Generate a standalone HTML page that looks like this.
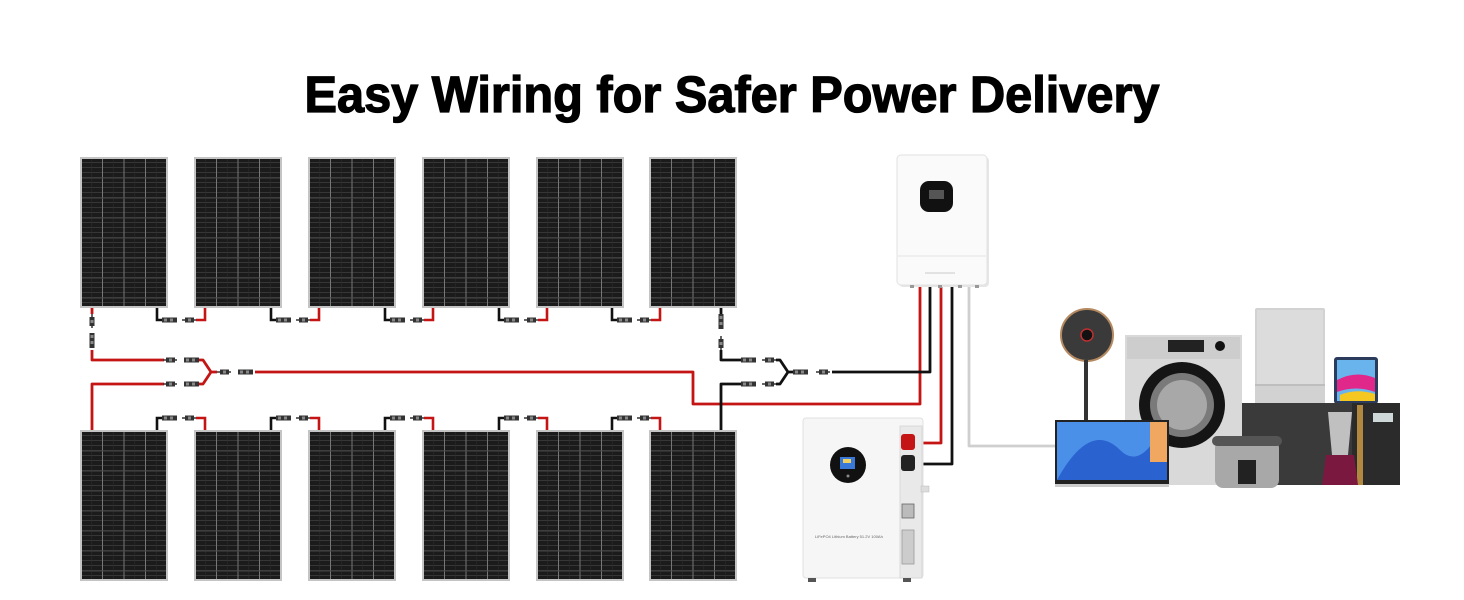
<!DOCTYPE html>
<html><head><meta charset="utf-8"><style>
html,body{margin:0;padding:0;background:#fff;width:1464px;height:600px;overflow:hidden}
svg{display:block}
</style></head><body>
<svg width="1464" height="600" viewBox="0 0 1464 600" xmlns="http://www.w3.org/2000/svg">
<defs>
<pattern id="cells" x="0" y="0" width="21.5" height="5" patternUnits="userSpaceOnUse">
<rect width="21.5" height="5" fill="#1b1b1b"/>
<line x1="0" y1="4.5" x2="21.5" y2="4.5" stroke="#363636" stroke-width="1"/>
<line x1="10.75" y1="0" x2="10.75" y2="5" stroke="#2a2a2a" stroke-width="0.6"/>
</pattern>
<g id="panel">
<rect x="0" y="0" width="86" height="149" fill="url(#cells)" stroke="#c4c4c4" stroke-width="2"/>
<g stroke="#777" stroke-width="1">
<line x1="21.5" y1="1" x2="21.5" y2="148"/><line x1="43" y1="1" x2="43" y2="148"/><line x1="64.5" y1="1" x2="64.5" y2="148"/>
<g stroke="#454545"><line x1="1" y1="20" x2="85" y2="20"/><line x1="1" y1="40" x2="85" y2="40"/><line x1="1" y1="60" x2="85" y2="60"/><line x1="1" y1="80" x2="85" y2="80"/><line x1="1" y1="100" x2="85" y2="100"/><line x1="1" y1="120" x2="85" y2="120"/><line x1="1" y1="140" x2="85" y2="140"/></g>
</g>
</g>
<g id="fem"><rect x="0" y="-2.5" width="15" height="5" fill="#333"/><rect x="2" y="-1.5" width="3" height="3" fill="#888"/><rect x="8" y="-1.5" width="3" height="3" fill="#888"/></g>
<g id="male"><rect x="3" y="-2.5" width="9" height="5" fill="#333"/><line x1="0" y1="0" x2="14" y2="0" stroke="#333" stroke-width="1.5"/><rect x="6" y="-1.5" width="3" height="3" fill="#888"/></g>
</defs>

<text x="732" y="112" text-anchor="middle" font-family="Liberation Sans, sans-serif" font-weight="bold" font-size="51" textLength="855" lengthAdjust="spacingAndGlyphs" fill="#000" stroke="#000" stroke-width="1.3">Easy Wiring for Safer Power Delivery</text>

<use href="#panel" x="81" y="158"/><use href="#panel" x="195" y="158"/><use href="#panel" x="309" y="158"/><use href="#panel" x="423" y="158"/><use href="#panel" x="537" y="158"/><use href="#panel" x="650" y="158"/>
<use href="#panel" x="81" y="431"/><use href="#panel" x="195" y="431"/><use href="#panel" x="309" y="431"/><use href="#panel" x="423" y="431"/><use href="#panel" x="537" y="431"/><use href="#panel" x="650" y="431"/>

<g fill="none" stroke-width="2.6">
<g id="pairTop">
<polyline points="157,308 157,320 163,320" stroke="#111"/>
<polyline points="196,320 205,320 205,308" stroke="#c41414"/>
</g>
<use href="#pairTop" x="114"/><use href="#pairTop" x="228"/><use href="#pairTop" x="342"/><use href="#pairTop" x="455"/>
<g id="pairBot">
<polyline points="157,430 157,418 163,418" stroke="#111"/>
<polyline points="196,418 205,418 205,430" stroke="#c41414"/>
</g>
<use href="#pairBot" x="114"/><use href="#pairBot" x="228"/><use href="#pairBot" x="342"/><use href="#pairBot" x="455"/>
</g>
<g>
<use href="#fem" x="162" y="320"/><use href="#male" x="182" y="320"/>
<use href="#fem" x="276" y="320"/><use href="#male" x="296" y="320"/>
<use href="#fem" x="390" y="320"/><use href="#male" x="410" y="320"/>
<use href="#fem" x="504" y="320"/><use href="#male" x="524" y="320"/>
<use href="#fem" x="617" y="320"/><use href="#male" x="637" y="320"/>
<use href="#fem" x="162" y="418"/><use href="#male" x="182" y="418"/>
<use href="#fem" x="276" y="418"/><use href="#male" x="296" y="418"/>
<use href="#fem" x="390" y="418"/><use href="#male" x="410" y="418"/>
<use href="#fem" x="504" y="418"/><use href="#male" x="524" y="418"/>
<use href="#fem" x="617" y="418"/><use href="#male" x="637" y="418"/>
</g>

<g fill="none" stroke-width="2.8" stroke-linejoin="round">
<polyline points="92,308 92,314" stroke="#c41414"/>
<polyline points="92,350 92,360 164,360" stroke="#c41414"/>
<polyline points="92,430 92,384 164,384" stroke="#c41414"/>
<path d="M199,360 L203,360 L211,372 L217,372 M199,384 L203,384 L211,372" stroke="#c41414"/>
<polyline points="255,372 693,372 693,404 920,404 920,285" stroke="#c41414"/>
<polyline points="721,308 721,314" stroke="#111"/>
<polyline points="721,350 721,360 741,360" stroke="#111"/>
<polyline points="721,430 721,384 741,384" stroke="#111"/>
<path d="M776,360 L780,360 L788,372 L793,372 M776,384 L780,384 L788,372" stroke="#111"/>
<polyline points="832,372 930,372 930,285" stroke="#111"/>
<polyline points="941,285 941,443 922,443" stroke="#c41414"/>
<polyline points="952,285 952,464 922,464" stroke="#111"/>
<polyline points="969,285 969,446 1056,446" stroke="#cfcfcf"/>
</g>
<g>
<g transform="translate(92,314) rotate(90)"><use href="#male" x="0" y="0"/></g>
<g transform="translate(92,333) rotate(90)"><use href="#fem" x="0" y="0"/></g>
<use href="#male" x="163" y="360"/><use href="#fem" x="184" y="360"/>
<use href="#male" x="163" y="384"/><use href="#fem" x="184" y="384"/>
<use href="#male" x="217" y="372"/><use href="#fem" x="238" y="372"/>
<g transform="translate(721,314) rotate(90)"><use href="#fem" x="0" y="0"/></g>
<g transform="translate(721,336) rotate(90)"><use href="#male" x="0" y="0"/></g>
<use href="#fem" x="741" y="360"/><use href="#male" x="762" y="360"/>
<use href="#fem" x="741" y="384"/><use href="#male" x="762" y="384"/>
<use href="#fem" x="793" y="372"/><use href="#male" x="816" y="372"/>
</g>

<rect x="899" y="157" width="90" height="130" rx="4" fill="#e6e6e6"/>
<rect x="897" y="155" width="90" height="130" rx="4" fill="#fafafa" stroke="#e2e2e2" stroke-width="1"/>
<line x1="898" y1="256" x2="986" y2="256" stroke="#e4e4e4"/>
<rect x="920" y="181" width="33" height="31" rx="9" fill="#111"/>
<rect x="929" y="190" width="15" height="9" fill="#555"/>
<line x1="925" y1="273" x2="955" y2="273" stroke="#bbb" stroke-width="0.8"/>
<g fill="#999"><rect x="910" y="285" width="4" height="3"/><rect x="938" y="285" width="4" height="3"/><rect x="958" y="285" width="4" height="3"/><rect x="975" y="285" width="4" height="3"/></g>

<rect x="803" y="418" width="120" height="160" rx="3" fill="#f6f6f6" stroke="#e0e0e0"/>
<rect x="900" y="426" width="22" height="152" fill="#e9e9e9" stroke="#d4d4d4" stroke-width="0.8"/>
<circle cx="848" cy="465" r="18" fill="#111"/>
<rect x="840" y="457" width="15" height="12" fill="#3a78d8"/>
<rect x="843" y="459" width="8" height="4" fill="#f0d060"/>
<circle cx="848" cy="476" r="1.5" fill="#888"/>
<rect x="901" y="434" width="14" height="16" rx="3" fill="#c41414"/>
<rect x="901" y="455" width="14" height="16" rx="3" fill="#222"/>
<rect x="902" y="504" width="12" height="14" fill="#bbb" stroke="#666" stroke-width="0.8"/>
<rect x="902" y="530" width="12" height="34" fill="#ccc" stroke="#999" stroke-width="0.8"/>
<rect x="921" y="486" width="8" height="6" fill="#ddd" stroke="#bbb" stroke-width="0.5"/>
<text x="815" y="538" font-family="Liberation Sans, sans-serif" font-size="4" fill="#666">LiFePO4 Lithium Battery 51.2V 100Ah</text>
<rect x="808" y="578" width="8" height="4" fill="#555"/><rect x="903" y="578" width="8" height="4" fill="#555"/>

<rect x="1255" y="308" width="70" height="98" rx="2" fill="#d2d2d2"/>
<rect x="1257" y="310" width="66" height="74" fill="#dcdcdc"/>
<line x1="1255" y1="385" x2="1325" y2="385" stroke="#aaa"/>
<rect x="1334" y="357" width="44" height="47" rx="3" fill="#2a3b5c"/>
<rect x="1337" y="360" width="38" height="41" fill="#6ab4ee"/>
<path d="M1337,380 Q1356,370 1375,378 L1375,392 Q1356,385 1337,392 Z" fill="#e0288a"/>
<path d="M1340,395 Q1356,388 1375,394 L1375,401 L1340,401 Z" fill="#f4c820"/>
<rect x="1242" y="403" width="158" height="82" fill="#2b2b2b"/>
<rect x="1242" y="403" width="110" height="82" fill="#3a3a3a"/>
<rect x="1357" y="405" width="6" height="80" fill="#b08840"/>
<rect x="1373" y="413" width="20" height="9" fill="#cfd8d8"/>
<rect x="1125" y="335" width="117" height="150" fill="#d9d9d9"/>
<rect x="1127" y="337" width="113" height="22" fill="#cdcdcd"/>
<rect x="1168" y="340" width="36" height="12" fill="#222"/>
<circle cx="1220" cy="346" r="5" fill="#111"/>
<circle cx="1182" cy="405" r="43" fill="#151515"/>
<circle cx="1182" cy="405" r="32" fill="#7a7a7a"/>
<circle cx="1182" cy="405" r="25" fill="#a8a8a8"/>
<circle cx="1087" cy="335" r="26" fill="#3a3a3a" stroke="#b58a60" stroke-width="2"/>
<circle cx="1087" cy="335" r="6" fill="#111" stroke="#c03030" stroke-width="1.5"/>
<rect x="1084" y="360" width="4" height="62" fill="#333"/>
<rect x="1055" y="420" width="114" height="64" fill="#222"/>
<rect x="1057" y="422" width="110" height="58" fill="#4a8fe8"/>
<path d="M1057,480 Q1090,420 1120,450 Q1140,470 1160,430 L1167,422 L1167,480 Z" fill="#2a62d0"/>
<rect x="1150" y="422" width="17" height="40" fill="#f0a860"/>
<rect x="1055" y="484" width="114" height="3" fill="#ccc"/>
<rect x="1215" y="440" width="64" height="48" rx="8" fill="#a8a8a8"/>
<rect x="1212" y="436" width="70" height="10" rx="5" fill="#555"/>
<rect x="1238" y="460" width="18" height="24" fill="#222"/>
<path d="M1328,412 L1352,412 L1348,455 L1332,455 Z" fill="#c0c0c0"/>
<path d="M1326,455 L1354,455 L1358,485 L1322,485 Z" fill="#7a1840"/>
</svg>
</body></html>
